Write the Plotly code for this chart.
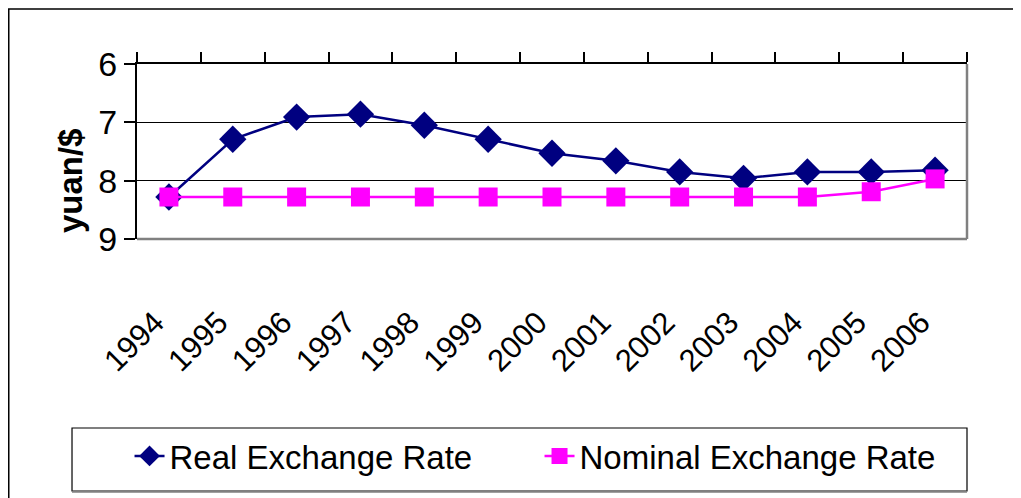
import plotly.graph_objects as go

years = ["1994", "1995", "1996", "1997", "1998", "1999", "2000",
         "2001", "2002", "2003", "2004", "2005", "2006"]
real_rate = [8.28, 7.29, 6.91, 6.86, 7.05, 7.29, 7.53, 7.66, 7.85, 7.96, 7.85, 7.85, 7.82]
nominal_rate = [8.28, 8.28, 8.28, 8.28, 8.28, 8.28, 8.28, 8.28, 8.28, 8.28, 8.28, 8.19, 7.97]
y_ticks = [6, 7, 8, 9]

FONT = "Liberation Sans, Arial, sans-serif"

fig = go.Figure()
fig.add_trace(go.Scatter(
    x=years, y=real_rate, name="Real Exchange Rate", mode="lines+markers",
    line=dict(color="#000080", width=2.5),
    marker=dict(symbol="diamond", size=21, color="#000080"),
))
fig.add_trace(go.Scatter(
    x=years, y=nominal_rate, name="Nominal Exchange Rate", mode="lines+markers",
    line=dict(color="#FF00FF", width=2.5),
    marker=dict(symbol="square", size=19, color="#FF00FF"),
))
# invisible trace on the top axis to carry the tick marks
fig.add_trace(go.Scatter(x=years, y=real_rate, xaxis="x2", mode="none",
                         showlegend=False, hoverinfo="skip"))

fig.update_layout(
    width=1013, height=490,
    margin=dict(l=129, r=54, t=56, b=259),
    paper_bgcolor="white", plot_bgcolor="white",
    font=dict(family=FONT, color="black", size=30),
    xaxis=dict(
        type="category", categoryorder="array", categoryarray=years,
        tickangle=-45, ticks="", showline=False, showgrid=False,
        ticklabelstandoff=58, ticklabelshift=-14, tickfont=dict(size=31),
        range=[-0.5, len(years) - 0.5],
    ),
    xaxis2=dict(
        type="category", categoryorder="array", categoryarray=years,
        overlaying="x", side="top", matches="x", showticklabels=False,
        ticks="outside", ticklen=10, tickcolor="black", tickwidth=1.5,
        tickson="boundaries", showline=True, linecolor="black", linewidth=2,
        showgrid=False,
    ),
    yaxis=dict(
        range=[9, 6], tickvals=y_ticks, ticks="outside", ticklen=11,
        tickcolor="black", tickwidth=1.5, showline=True, linecolor="black",
        linewidth=2, showgrid=True, gridcolor="black", gridwidth=1,
        zeroline=False, tickfont=dict(size=34),
    ),
    annotations=[
        dict(text="<b>yuan/$</b>", textangle=-90, xref="paper", yref="paper",
             x=-0.0807, y=0.331, xanchor="center", yanchor="middle",
             showarrow=False, font=dict(size=33, family=FONT, color="black")),
    ],
    showlegend=True,
    legend=dict(
        orientation="h", x=-0.009, xanchor="left", y=-1.24, yanchor="middle",
        font=dict(size=33), bgcolor="rgba(0,0,0,0)", borderwidth=0,
        entrywidth=365, entrywidthmode="pixels",
    ),
    shapes=[
        # plot area right and bottom border (gray)
        dict(type="line", xref="paper", yref="paper", x0=1, x1=1, y0=0, y1=1,
             line=dict(color="#808080", width=2.5)),
        dict(type="line", xref="paper", yref="paper", x0=0, x1=1, y0=0, y1=0,
             line=dict(color="#808080", width=2.5)),
        # chart area border
        dict(type="rect", xref="paper", yref="paper", x0=-0.1545, x1=1.2,
             y0=-1.6, y1=1.314, line=dict(color="black", width=1.5)),
        # legend box
        dict(type="rect", xref="paper", yref="paper", x0=-0.0783, x1=1.0,
             y0=-1.44, y1=-1.08, line=dict(color="black", width=1.2)),
        dict(type="line", xref="paper", yref="paper", x0=-0.0783, x1=1.0,
             y0=-1.444, y1=-1.444, line=dict(color="#808080", width=2)),
    ],
)

fig.write_html("out.html")
